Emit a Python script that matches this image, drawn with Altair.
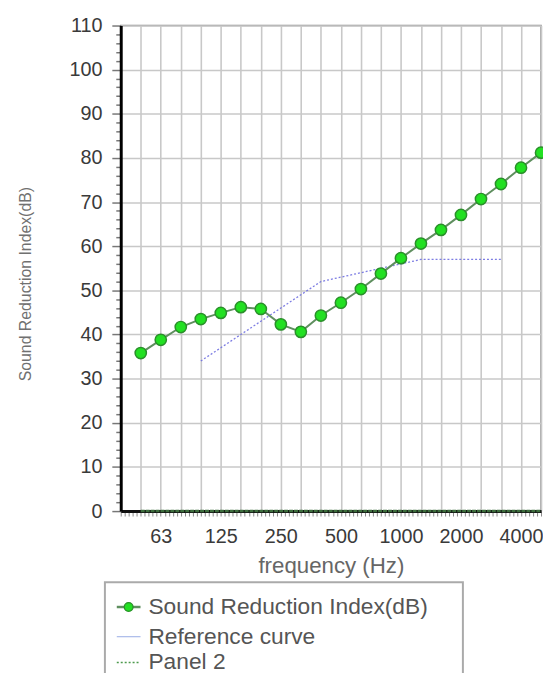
import altair as alt
import pandas as pd

# ---- data ----
axis_bands = [40, 50, 63, 80, 100, 125, 160, 200, 250, 315, 400, 500, 630,
              800, 1000, 1250, 1600, 2000, 2500, 3150, 4000, 5000]
labelled_bands = [63, 125, 250, 500, 1000, 2000, 4000]

sri_freq = [50, 63, 80, 100, 125, 160, 200, 250, 315, 400, 500, 630, 800,
            1000, 1250, 1600, 2000, 2500, 3150, 4000, 5000]
sri_db = [35.8, 38.8, 41.7, 43.5, 44.9, 46.2, 45.8, 42.3, 40.6, 44.3, 47.2,
          50.3, 53.8, 57.3, 60.6, 63.7, 67.1, 70.7, 74.1, 77.8, 81.2]

ref_freq = [100, 125, 160, 200, 250, 315, 400, 500, 630, 800, 1000, 1250,
            1600, 2000, 2500, 3150]
ref_db = [34, 37, 40, 43, 46, 49, 52, 53, 54, 55, 56, 57, 57, 57, 57, 57]

panel2_freq = [50, 63, 80, 100, 125, 160, 200, 250, 315, 400, 500, 630, 800,
               1000, 1250, 1600, 2000, 2500, 3150, 4000, 5000]
panel2_db = [0, 0, 0, 0, 0, 0, 0, 0, 0, 0, 0, 0, 0, 0, 0, 0, 0, 0, 0, 0, 0]

series_names = ["Sound Reduction Index(dB)", "Reference curve", "Panel 2"]

# ---- tables ----
band_index = {f: i for i, f in enumerate(axis_bands)}
sri_df = pd.DataFrame({"idx": [band_index[f] for f in sri_freq], "db": sri_db, "freq": sri_freq})
ref_df = pd.DataFrame({"idx": [band_index[f] for f in ref_freq], "db": ref_db, "freq": ref_freq})
p2_df = pd.DataFrame({"idx": [band_index[f] for f in panel2_freq], "db": panel2_db, "freq": panel2_freq})

FONT = "Liberation Sans"
is_int = "abs(datum.value - round(datum.value)) < 0.01"
x_ticks = [round(k * 0.2, 2) for k in range(0, 106)]
label_expr = "".join(
    f"abs(datum.value - {band_index[f]}) < 0.01 ? '{f}' : " for f in labelled_bands
) + "''"

x_axis = alt.Axis(
    values=x_ticks,
    labelExpr=label_expr,
    title="frequency (Hz)",
    grid=True,
    gridColor="#c8c8c8",
    gridWidth=1.6,
    gridOpacity={"condition": {"test": is_int, "value": 1}, "value": 0},
    tickSize=5,
    tickColor="#8a8a8a",
    tickWidth=1,
    labelFontSize=20,
    labelColor="#3a3a3a",
    labelFont=FONT,
    labelBaseline="top",
    labelPadding=11,
    labelFlush=False,
    labelOverlap=False,
    labelBound=False,
    domainColor="#111111",
    domainWidth=3,
    titleFont=FONT,
    titleFontSize=22.5,
    titleFontWeight="normal",
    titleColor="#666666",
    titleY=55,
    titleBaseline="middle",
)

y_axis = alt.Axis(
    values=list(range(0, 111, 2)),
    labelExpr="datum.value % 10 == 0 ? datum.label : ''",
    title="Sound Reduction Index(dB)",
    grid=True,
    gridColor="#c8c8c8",
    gridWidth=1.6,
    gridOpacity={"condition": {"test": "datum.value % 10 == 0", "value": 1}, "value": 0},
    tickSize={"condition": {"test": "datum.value % 10 == 0", "value": 9}, "value": 5},
    tickColor="#777777",
    tickWidth=1.5,
    labelFontSize=20,
    labelColor="#3a3a3a",
    labelFont=FONT,
    labelPadding=10,
    labelFlush=False,
    labelOverlap=False,
    labelBound=False,
    domainColor="#000000",
    domainWidth=3,
    titleFont=FONT,
    titleFontSize=16,
    titleFontWeight="normal",
    titleColor="#707070",
    titleAngle=270,
    titleX=-96,
    titleY=261,
    titleAlign="center",
    titleBaseline="middle",
)

x_scale = alt.Scale(domain=[0, len(axis_bands) - 1], nice=False, zero=False)
y_scale = alt.Scale(domain=[0, 110], nice=False, zero=True)


def xe():
    return alt.X("idx:Q", scale=x_scale, axis=x_axis)


def ye():
    return alt.Y("db:Q", scale=y_scale, axis=y_axis)


GREEN_LINE = "#5f8f5f"
GREEN_FILL = "#22e022"
GREEN_EDGE = "#2a8f2a"
REF_COLOR = "#6f6fe0"
P2_COLOR = "#3d6e3d"

p2_line = alt.Chart(p2_df).mark_line(
    color=P2_COLOR, strokeWidth=2.5, strokeDash=[4, 1]
).encode(x=xe(), y=ye())

ref_line = alt.Chart(ref_df).mark_line(
    color=REF_COLOR, strokeWidth=1.3, strokeDash=[2, 2], opacity=0.9
).encode(x=xe(), y=ye())

sri_line = alt.Chart(sri_df).mark_line(
    color=GREEN_LINE, strokeWidth=2
).encode(x=xe(), y=ye())

sri_pts = alt.Chart(sri_df).mark_point(
    filled=True, shape="circle", size=130, fill=GREEN_FILL, stroke=GREEN_EDGE,
    strokeWidth=1.5, opacity=1
).encode(x=xe(), y=ye())

# ---- legend (drawn below the plot) ----
one = pd.DataFrame({"k": [0]})
leg_box = alt.Chart(one).mark_rect(
    fillOpacity=0, stroke="#aaaaaa", strokeWidth=2
).encode(x=alt.value(-16), x2=alt.value(346), y=alt.value(563), y2=alt.value(700))

row_y = [588, 618, 644]
leg_layers = [leg_box]
leg_layers.append(alt.Chart(one).mark_rule(color=GREEN_LINE, strokeWidth=2.5).encode(
    x=alt.value(-4), x2=alt.value(20), y=alt.value(row_y[0])))
leg_layers.append(alt.Chart(one).mark_point(
    filled=True, shape="circle", size=80, fill=GREEN_FILL, stroke=GREEN_EDGE,
    strokeWidth=1.2, opacity=1).encode(x=alt.value(8), y=alt.value(row_y[0])))
leg_layers.append(alt.Chart(one).mark_rule(color="#a9b9ea", strokeWidth=1.2).encode(
    x=alt.value(-4), x2=alt.value(20), y=alt.value(row_y[1])))
leg_layers.append(alt.Chart(one).mark_rule(color="#4d9a4d", strokeWidth=1.5, strokeDash=[2, 2]).encode(
    x=alt.value(-4), x2=alt.value(20), y=alt.value(row_y[2])))
for name, yy in zip(series_names, row_y):
    leg_layers.append(alt.Chart(pd.DataFrame({"name": [name]})).mark_text(
        align="left", baseline="middle", font=FONT, fontSize=23, color="#555555"
    ).encode(x=alt.value(28), y=alt.value(yy), text="name:N"))

chart = alt.layer(p2_line, ref_line, sri_line, sri_pts, *leg_layers).properties(
    width=425,
    height=491,
    autosize=alt.AutoSizeParams(type="none"),
    padding={"left": 114, "top": 14, "right": 2, "bottom": 160},
    background="white",
).configure_view(
    stroke="#8c8c8c", strokeWidth=1.5
)

chart.save("out.html", embed_options={"renderer": "svg", "actions": False})
